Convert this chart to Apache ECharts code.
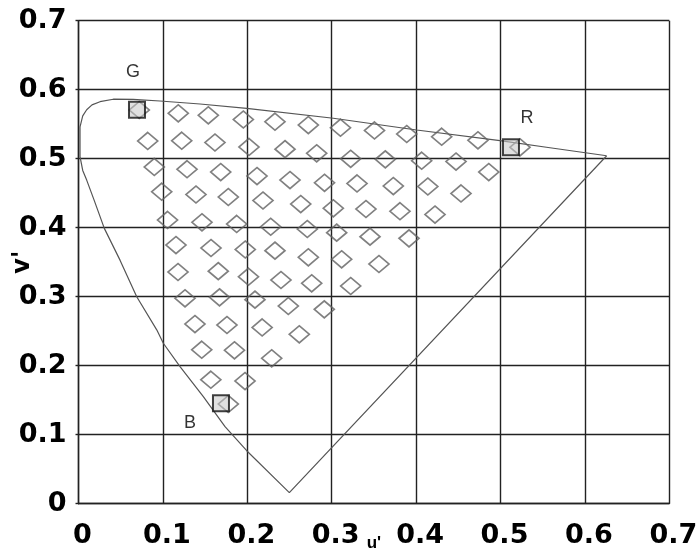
<!DOCTYPE html>
<html>
<head>
<meta charset="utf-8">
<script src="https://cdn.jsdelivr.net/npm/echarts@6/dist/echarts.min.js"></script>
<style>html,body{margin:0;padding:0;background:#fff}#c{width:700px;height:553px}</style>
</head>
<body>
<div id="c"></div>
<script>
// Tick labels
const xTickLabels = ['0','0.1','0.2','0.3','0.4','0.5','0.6','0.7'];
const yTickLabels = ['0','0.1','0.2','0.3','0.4','0.5','0.6','0.7'];

// Spectral locus outline (u', v')
const locus = [
  [0.6258,0.5043],[0.5586,0.5159],[0.4994,0.5261],[0.4007,0.5416],[0.3019,0.5586],
  [0.1993,0.5730],[0.1440,0.5793],[0.0966,0.5836],[0.0649,0.5861],[0.0412,0.5862],
  [0.0255,0.5826],[0.0160,0.5780],[0.0097,0.5710],[0.0050,0.5620],[0.0018,0.5460],
  [0.0018,0.5030],[0.0050,0.4830],[0.0097,0.4690],[0.0185,0.4400],[0.0306,0.3990],
  [0.0492,0.3530],[0.0690,0.3000],[0.0927,0.2520],[0.1005,0.2325],[0.1203,0.1986],
  [0.1479,0.1551],[0.1736,0.1116],[0.1993,0.0768],[0.2498,0.0160],[0.6258,0.5043]
];

// Test colour points (open diamonds), one array per row
const rowA = [[0.0720,0.5706],[0.1182,0.5658],[0.1538,0.5629],[0.1953,0.5568],[0.2328,0.5536],[0.2723,0.5488],[0.3104,0.5449],[0.3507,0.5409],[0.3889,0.5358],[0.4303,0.5319],[0.4733,0.5267],[0.5231,0.5165]];
const rowB = [[0.0820,0.5257],[0.1223,0.5261],[0.1617,0.5235],[0.2020,0.5170],[0.2447,0.5138],[0.2822,0.5078],[0.3225,0.4999],[0.3635,0.4991],[0.4066,0.4971],[0.4473,0.4959],[0.4861,0.4807]];
const rowC = [[0.0898,0.4880],[0.1286,0.4848],[0.1685,0.4807],[0.2115,0.4749],[0.2506,0.4691],[0.2915,0.4651],[0.3300,0.4641],[0.3730,0.4604],[0.4139,0.4597],[0.4532,0.4496]];
const rowD = [[0.0986,0.4522],[0.1392,0.4481],[0.1775,0.4445],[0.2186,0.4394],[0.2633,0.4343],[0.3019,0.4281],[0.3406,0.4271],[0.3809,0.4239],[0.4224,0.4191]];
const rowE = [[0.1055,0.4112],[0.1463,0.4078],[0.1874,0.4054],[0.2277,0.4014],[0.2711,0.3981],[0.3059,0.3928],[0.3454,0.3870],[0.3916,0.3846]];
const rowF = [[0.1155,0.3749],[0.1570,0.3706],[0.1976,0.3684],[0.2328,0.3667],[0.2723,0.3571],[0.3118,0.3542],[0.3560,0.3474]];
const rowG = [[0.1179,0.3358],[0.1656,0.3370],[0.2014,0.3290],[0.2399,0.3242],[0.2763,0.3194],[0.3225,0.3155]];
const rowH = [[0.1262,0.2977],[0.1671,0.2991],[0.2091,0.2957],[0.2486,0.2865],[0.2912,0.2817]];
const rowI = [[0.1380,0.2604],[0.1759,0.2590],[0.2176,0.2554],[0.2616,0.2455]];
const rowJ = [[0.1460,0.2232],[0.1848,0.2223],[0.2289,0.2107]];
const rowK = [[0.1568,0.1797],[0.1973,0.1778]];
const rowL = [[0.1775,0.1445]];

// Primaries (squares)
const primaryNames = ['G','R','B'];
const primaryU = [0.0693,0.5124,0.1688];
const primaryV = [0.5710,0.5165,0.1455];
const primaryLabelOffsets = {G:[-4,-38], R:[16,-29], B:[-31,20]};

const diamonds = [].concat(rowA,rowB,rowC,rowD,rowE,rowF,rowG,rowH,rowI,rowJ,rowK,rowL);

const chart = echarts.init(document.getElementById('c'), null, {renderer:'canvas'});
const tickFont = {fontFamily:'DejaVu Sans', fontWeight:'bold', fontSize:27, color:'#000'};
const gridLine = {show:true, lineStyle:{color:'#222', width:1.4}};

chart.setOption({
  animation:false,
  backgroundColor:'#fff',
  grid:{left:78.5, right:30.7, top:20.7, bottom:49.3, containLabel:false, outerBoundsMode:'none'},
  xAxis:{
    type:'value', min:0, max:0.7, interval:0.1,
    name:"u'", nameLocation:'middle', nameGap:31, nameMoveOverlap:false,
    nameTextStyle:{fontFamily:'Liberation Sans', fontWeight:'bold', fontSize:17, color:'#000'},
    axisLine:{show:true, lineStyle:{color:'#222', width:1.4}},
    axisTick:{show:false},
    splitLine:gridLine,
    axisLabel:Object.assign({}, tickFont, {
      margin:19, lineHeight:27, padding:[0,0,0,8],
      formatter:v => xTickLabels[Math.round(v*10)]
    })
  },
  yAxis:{
    type:'value', min:0, max:0.7, interval:0.1,
    name:"v'", nameLocation:'middle', nameGap:44, nameRotate:90, nameMoveOverlap:false,
    nameTextStyle:{fontFamily:'DejaVu Sans', fontWeight:'bold', fontSize:24, color:'#000'},
    axisLine:{show:true, lineStyle:{color:'#222', width:1.4}},
    axisTick:{show:true, length:3, lineStyle:{color:'#222', width:1.4}},
    splitLine:gridLine,
    axisLabel:Object.assign({}, tickFont, {
      margin:12, padding:[7,0,0,0],
      formatter:v => yTickLabels[Math.round(v*10)]
    })
  },
  series:[
    {
      type:'line', data:locus, showSymbol:false, symbol:'none', smooth:false,
      lineStyle:{color:'#555', width:1.2}, z:2, silent:true
    },
    {
      type:'scatter', data:diamonds, symbol:'diamond', symbolSize:[20,17],
      itemStyle:{color:'rgba(255,255,255,0)', borderColor:'#606060', borderWidth:1.7}, z:3
    },
    {
      type:'scatter', symbol:'rect', symbolSize:16, z:4,
      itemStyle:{color:'rgba(200,200,200,0.7)', borderColor:'#111', borderWidth:2},
      data:primaryNames.map((n,i)=>({
        name:n, value:[primaryU[i], primaryV[i]],
        label:{show:true, formatter:n, position:'inside', offset:primaryLabelOffsets[n],
          fontFamily:'Liberation Sans', fontSize:18, color:'#000'}
      }))
    }
  ]
});
</script>
</body>
</html>
